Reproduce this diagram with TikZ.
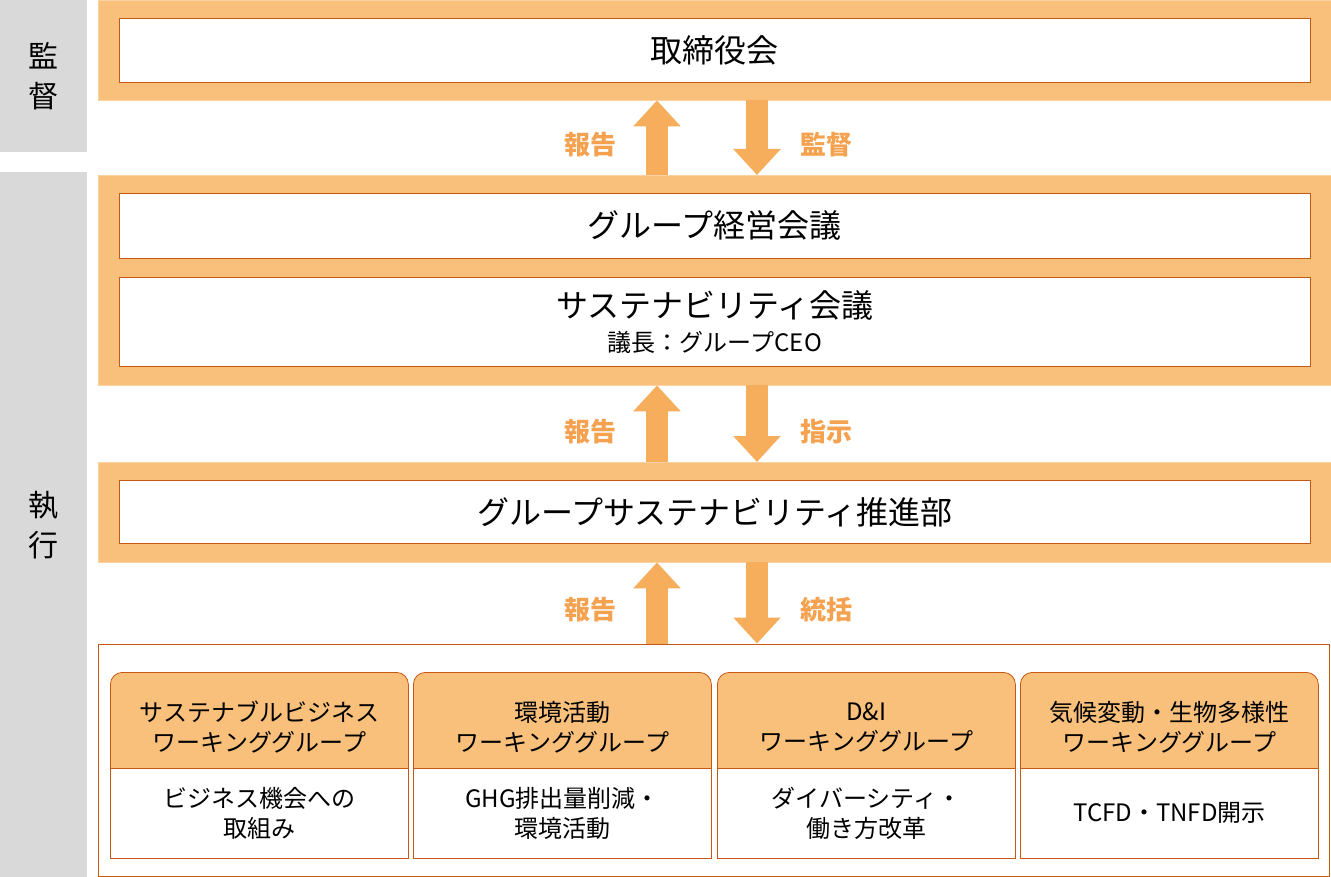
\documentclass[tikz,border=0pt]{standalone}
\usepackage{fontspec}
\setmainfont{Noto Sans CJK JP}
\usetikzlibrary{positioning,arrows.meta}
\definecolor{frameor}{HTML}{F9C07C}
\definecolor{edgeor}{HTML}{C65911}
\definecolor{arrowor}{HTML}{F7AE5C}
\definecolor{labelor}{HTML}{F4A24F}
\definecolor{sidegray}{HTML}{D9D9D9}
\tikzset{
  side/.style={fill=sidegray, draw=none, anchor=north west, inner sep=0},
  frame/.style={fill=frameor, draw=frameor!70, anchor=north west, minimum width=1233pt, inner sep=0},
  inbox/.style={fill=white, draw=edgeor, line width=0.8pt, anchor=north west, minimum width=1191pt, inner sep=0, align=center, font=\fontsize{32}{38}\selectfont},
  big/.style={-{Triangle[width=46pt,length=26pt]}, line width=22pt, arrowor},
  lab/.style={text=labelor, font=\fontsize{26}{30}\selectfont\bfseries},
  head/.style={fill=frameor, draw=edgeor, line width=0.8pt, rounded corners=12pt, anchor=north west, minimum width=298pt, minimum height=110pt, align=center, font=\fontsize{24}{30}\selectfont, inner sep=0},
  body/.style={fill=white, draw=edgeor, line width=0.8pt, anchor=north west, minimum width=298pt, minimum height=90pt, align=center, font=\fontsize{24}{30}\selectfont, inner sep=0},
}
\begin{document}
\begin{tikzpicture}[x=1pt,y=-1pt]
\useasboundingbox (0,0) rectangle (1331,877);
% left column
\node[side, minimum width=87pt, minimum height=152pt] (sup) at (0,0) {};
\node[font=\fontsize{30}{40}\selectfont, align=center] at (sup.center) {監\\督};
\node[side, minimum width=87pt, minimum height=705pt] (exe) at (0,172) {};
\node[font=\fontsize{30}{40}\selectfont, align=center] at (exe.center) {執\\行};
% frames
\node[frame, minimum height=100pt] (f1) at (98,0) {};
\node[inbox, minimum height=64pt] (board) at (119,18) {取締役会};
\node[frame, minimum height=210pt] (f2) at (98,175) {};
\node[inbox, minimum height=65pt] (gmc) at (119,193) {グループ経営会議};
\node[inbox, minimum height=89pt] (sc) at (119,277) {サステナビリティ会議\\[-4pt]{\fontsize{24}{28}\selectfont 議長：グループCEO}};
\node[frame, minimum height=100pt] (f3) at (98,462) {};
\node[inbox, minimum height=63pt] (gsd) at (119,480) {グループサステナビリティ推進部};
\node[fill=white, draw=edgeor, line width=1pt, anchor=north west, minimum width=1231pt, minimum height=232pt, inner sep=0] (f4) at (98,643.5) {};
% arrows
\coordinate (up) at (657,0);
\coordinate (dn) at (757,0);
\draw[big] (f2.north-|up) -- (f1.south-|up);
\draw[big] (f1.south-|dn) -- (f2.north-|dn);
\draw[big] (f3.north-|up) -- (f2.south-|up);
\draw[big] (f2.south-|dn) -- (f3.north-|dn);
\draw[big] (f4.north-|up) -- (f3.south-|up);
\draw[big] (f3.south-|dn) -- (f4.north-|dn);
\node[lab] at (590,145) {報告};
\node[lab] at (826,145) {監督};
\node[lab] at (590,432) {報告};
\node[lab] at (826,432) {指示};
\node[lab] at (590,610) {報告};
\node[lab] at (826,610) {統括};
% working groups
\node[head] (h1) at (110,672) {サステナブルビジネス\\ワーキンググループ};
\node[head] (h2) at (413,672) {環境活動\\ワーキンググループ};
\node[head] (h3) at (717,672) {D\&I\\ワーキンググループ};
\node[head] (h4) at (1020,672) {気候変動・生物多様性\\ワーキンググループ};
\node[body] (b1) at (110,768) {ビジネス機会への\\取組み};
\node[body] (b2) at (413,768) {GHG排出量削減・\\環境活動};
\node[body] (b3) at (717,768) {ダイバーシティ・\\働き方改革};
\node[body] (b4) at (1020,768) {TCFD・TNFD開示};
\end{tikzpicture}
\end{document}
